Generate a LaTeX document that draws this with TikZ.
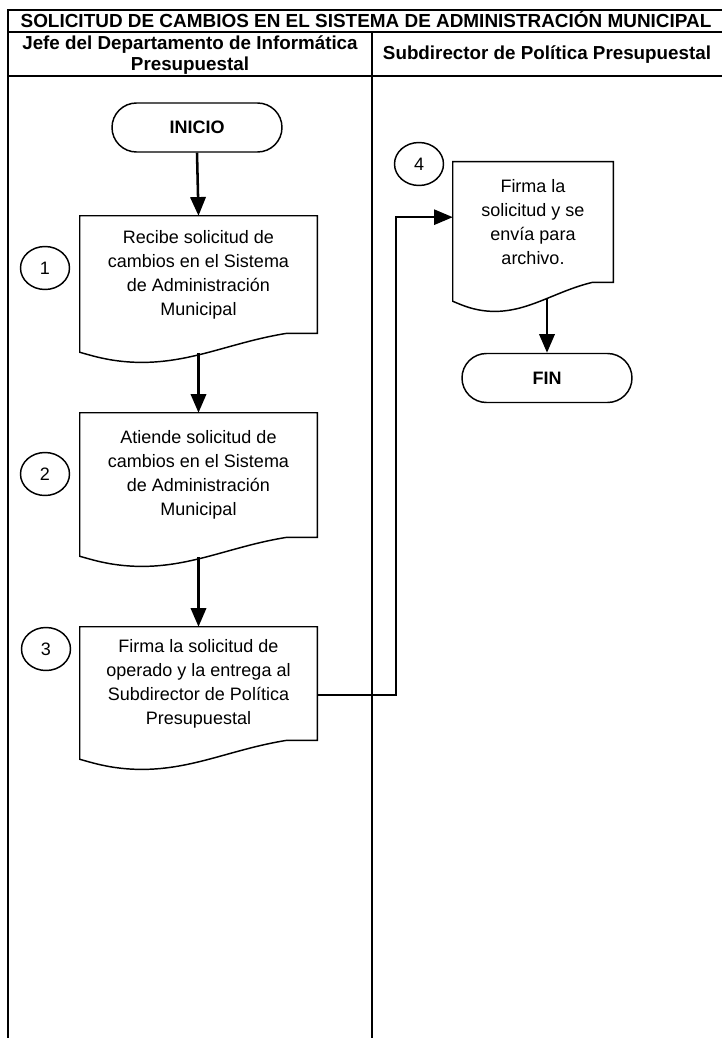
\documentclass[tikz,border=0pt]{standalone}
\usepackage{fontspec}
\setmainfont{Liberation Sans}
\usetikzlibrary{shapes.geometric,shapes.misc,arrows.meta,calc}
\newcommand{\docout}[1]{%
 \draw[shp] let \p1=(#1.south west), \p2=(#1.north east), \n1={\x2-\x1} in
 (\x1,\y2) -- (\x2,\y2) -- (\x2,\y1) -- ({\x2-0.127*\n1},\y1)
 .. controls ({\x2-0.367*\n1},{\y1-6.75pt}) and ({\x1+0.464*\n1},{\y1-23.25pt}) .. ({\x1+0.232*\n1},{\y1-21.75pt})
 .. controls ({\x1+0.127*\n1},{\y1-21pt}) and ({\x1+0.06*\n1},{\y1-17.25pt}) .. (\x1,{\y1-14.25pt}) -- cycle;}
\begin{document}
\begin{tikzpicture}[x=0.75pt,y=-0.75pt,
  font=\fontsize{13.5}{18}\selectfont,
  frame/.style={line width=1.9pt},
  shp/.style={line width=1.1pt},
  term/.style={rounded rectangle, draw, line width=1.1pt, minimum width=127.5pt, minimum height=36.75pt, inner sep=0pt, font=\fontsize{13.5}{18}\selectfont\bfseries},
  num/.style={ellipse, draw, line width=1.1pt, minimum width=36.75pt, minimum height=32.25pt, inner sep=0pt},
  doc/.style={rectangle, inner sep=0pt, align=center},
  hdr/.style={align=center, inner sep=0pt, font=\fontsize{14.1}{15.75}\selectfont\bfseries},
  arr/.style={line width=1.9pt, -{Triangle[length=14pt,width=11.5pt]}},
  conn/.style={line width=1.2pt, -{Triangle[length=14pt,width=11.5pt]}},
]
\useasboundingbox (0,0) rectangle (722,1038);
% frame
\draw[frame] (8,1038) -- (8,10) -- (722,10);
\draw[frame] (8,32) -- (722,32);
\draw[frame] (8,76) -- (722,76);
\draw[frame] (372,32) -- (372,1038);
% headers
\node[hdr, anchor=base, font=\fontsize{14.2}{15.75}\selectfont\bfseries] (title) at (366,27.5) {SOLICITUD DE CAMBIOS EN EL SISTEMA DE ADMINISTRACIÓN MUNICIPAL};
\node[hdr] (h1) at (190,55) {Jefe del Departamento de Informática\\Presupuestal};
\node[hdr] (h2) at (547,55) {Subdirector de Política Presupuestal};
% nodes
\node[term] (inicio) at (197,127.5) {INICIO};
\node[doc, minimum width=177.75pt, minimum height=87.75pt] (d1) at (198.5,274.5) {Recibe solicitud de\\cambios en el Sistema\\de Administración\\Municipal};
\node[doc, minimum width=177.75pt, minimum height=93pt] (d2) at (198.5,475) {Atiende solicitud de\\cambios en el Sistema\\de Administración\\Municipal};
\node[doc, minimum width=177.75pt, minimum height=84.75pt] (d3) at (198.5,683.5) {Firma la solicitud de\\operado y la entrega al\\Subdirector de Política\\Presupuestal};
\node[doc, minimum width=120pt, minimum height=90pt] (d4) at (533,222) {Firma la\\solicitud y se\\envía para\\archivo.};
\node[term] (fin) at (547,378) {FIN};
\docout{d1}
\docout{d2}
\docout{d3}
\docout{d4}
% step numbers
\node[num] (n1) at (45,268) {1};
\node[num] (n2) at (45,474) {2};
\node[num] (n3) at (46,649) {3};
\node[num] (n4) at (419,164) {4};
% connectors
\draw[arr] (inicio.south) -- (d1.north);
\draw[arr] ([yshift=-15pt]d1.south) -- (d2.north);
\draw[arr] ([yshift=-15pt]d2.south) -- (d3.north);
\path (d4.south -| fin.north) ++(0,16) coordinate (d4o);
\draw[arr] (d4o) -- (fin.north);
\coordinate (d3o) at ($(d3.north east)!0.6!(d3.south east)$);
\coordinate (d4i) at ($(d4.north west)!0.46!(d4.south west)$);
\draw[conn] (d3o) -- ++(79,0) |- (d4i);
\end{tikzpicture}
\end{document}
